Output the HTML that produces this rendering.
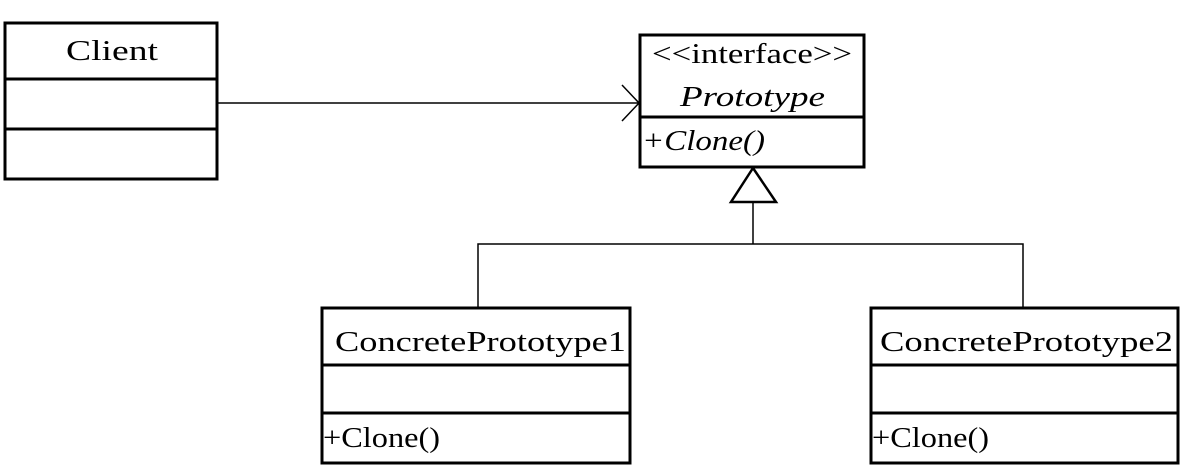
<!DOCTYPE html>
<html><head><meta charset="utf-8"><style>html,body{margin:0;padding:0;background:#fff}svg{display:block}</style></head>
<body>
<svg width="1203" height="472" viewBox="0 0 1203 472" xmlns="http://www.w3.org/2000/svg" font-family="Liberation Serif, serif" font-size="28" fill="#000">
<g fill="none" stroke="#000">
<rect x="5" y="23" width="212" height="156" stroke-width="3"/>
<line x1="5" y1="79" x2="217" y2="79" stroke-width="3"/>
<line x1="5" y1="129" x2="217" y2="129" stroke-width="3"/>
<rect x="640" y="35" width="224" height="132" stroke-width="3"/>
<line x1="640" y1="117" x2="864" y2="117" stroke-width="3"/>
<line x1="217" y1="103" x2="639" y2="103" stroke-width="1.5"/>
<polyline points="622,85 639,103 622,121" stroke-width="1.5"/>
<polygon points="753,168 731,202 776,202" stroke-width="2.5" fill="#fff"/>
<line x1="753" y1="202" x2="753" y2="244" stroke-width="1.5"/>
<polyline points="478,307 478,244 1023,244 1023,307" stroke-width="1.5"/>
<rect x="322" y="308" width="308" height="155" stroke-width="3"/>
<line x1="322" y1="365" x2="630" y2="365" stroke-width="3"/>
<line x1="322" y1="413" x2="630" y2="413" stroke-width="3"/>
<rect x="871" y="308" width="307" height="155" stroke-width="3"/>
<line x1="871" y1="365" x2="1178" y2="365" stroke-width="3"/>
<line x1="871" y1="413" x2="1178" y2="413" stroke-width="3"/>
</g>
<g stroke="none">
<text x="66" y="60" textLength="92" lengthAdjust="spacingAndGlyphs">Client</text>
<text x="652" y="63" textLength="200" lengthAdjust="spacingAndGlyphs">&lt;&lt;interface&gt;&gt;</text>
<text x="680" y="106" font-style="italic" textLength="145" lengthAdjust="spacingAndGlyphs">Prototype</text>
<text x="642" y="150" font-style="italic" textLength="123" lengthAdjust="spacingAndGlyphs">+Clone()</text>
<text x="335" y="351" textLength="291" lengthAdjust="spacingAndGlyphs">ConcretePrototype1</text>
<text x="323" y="447" textLength="117" lengthAdjust="spacingAndGlyphs">+Clone()</text>
<text x="880" y="351" textLength="293" lengthAdjust="spacingAndGlyphs">ConcretePrototype2</text>
<text x="872" y="447" textLength="117" lengthAdjust="spacingAndGlyphs">+Clone()</text>
</g>
</svg>
</body></html>
